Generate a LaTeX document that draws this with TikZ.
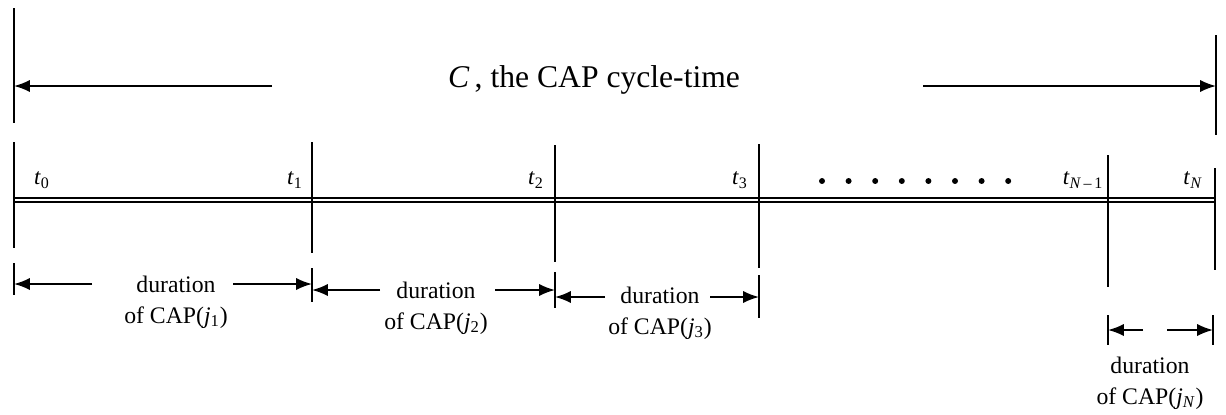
\documentclass[tikz,border=0pt]{standalone}
\usepackage{fontspec}
\setmainfont{Liberation Serif}
\usetikzlibrary{arrows.meta,positioning}

\newcommand{\tsub}[2]{\textit{#1}\textsubscript{#2}}

\begin{document}
\begin{tikzpicture}[
    x=0.02cm, y=-0.02cm,
    boundary/.style={line width=1.1pt},
    timeline/.style={double, line width=0.9pt, double distance=1.3pt},
    spanedge/.style={-{Latex[length=9pt,width=7pt]}, line width=1.1pt},
    title/.style={font=\fontsize{18}{21}\selectfont, inner sep=1pt},
    timelabel/.style={font=\fontsize{13}{15}\selectfont, inner sep=1pt},
    spanlabel/.style={align=center, font=\fontsize{13.5}{17.6}\selectfont, inner sep=1pt}
]
    \useasboundingbox (0,0) rectangle (1226,414);

    % cycle time
    \node[title] (cycle) at (594,80) {\textit{C}\,, the CAP cycle-time};
    \coordinate (cleft) at (14,86);
    \coordinate (cright) at (1216,86);
    \coordinate (cleftstart) at (272,86);
    \coordinate (crightstart) at (923,86);
    \draw[boundary] (14,8) -- (14,123);
    \draw[boundary] (1216,35) -- (1216,135);
    \draw[spanedge] (cleftstart) -- (cleft);
    \draw[spanedge] (crightstart) -- (cright);

    % time axis
    \coordinate (p0) at (14,200);
    \coordinate (p1) at (312,200);
    \coordinate (p2) at (555,200);
    \coordinate (p3) at (759,200);
    \coordinate (pm) at (1108,200);
    \coordinate (pn) at (1215,200);
    \draw[timeline] (p0) -- (pn);
    \draw[boundary] (14,142) -- (14,248);
    \draw[boundary] (312,142) -- (312,253);
    \draw[boundary] (555,145) -- (555,262);
    \draw[boundary] (759,144) -- (759,268);
    \draw[boundary] (1108,155) -- (1108,287);
    \draw[boundary] (1215,168) -- (1215,270);

    \node[timelabel] (t0) at (42,180) {\tsub{t}{0}};
    \node[timelabel] (t1) at (295,180) {\tsub{t}{1}};
    \node[timelabel] (t2) at (536,180) {\tsub{t}{2}};
    \node[timelabel] (t3) at (740,180) {\tsub{t}{3}};
    \node[timelabel] (tm) at (1083,180) {\tsub{t}{\textit{N}\,--\,1}};
    \node[timelabel] (tn) at (1193,180) {\tsub{t}{\textit{N}}};
    \foreach \k in {0,...,7}
        \fill (822+26.6*\k,181) circle (1.7pt);

    % durations
    \node[spanlabel] (d1) at (176,302) {duration\\of CAP(\tsub{j}{1})};
    \node[spanlabel] (d2) at (436,308) {duration\\of CAP(\tsub{j}{2})};
    \node[spanlabel] (d3) at (660,313) {duration\\of CAP(\tsub{j}{3})};
    \node[spanlabel] (dn) at (1150,383) {duration\\of CAP(\tsub{j}{\textit{N}})};

    \draw[boundary] (14,263) -- (14,295);
    \draw[boundary] (312,268) -- (312,302);
    \draw[boundary] (555,272) -- (555,308);
    \draw[boundary] (759,275) -- (759,318);
    \draw[boundary] (1108,315) -- (1108,345);
    \draw[boundary] (1213,315) -- (1213,345);

    \coordinate (a1l) at (14,284);   \coordinate (a1r) at (312,284);
    \coordinate (a2l) at (312,290);  \coordinate (a2r) at (555,290);
    \coordinate (a3l) at (555,297);  \coordinate (a3r) at (759,297);
    \coordinate (anl) at (1108,330); \coordinate (anr) at (1213,330);

    \draw[spanedge] (92,284) -- (a1l);
    \draw[spanedge] (233,284) -- (a1r);
    \draw[spanedge] (380,290) -- (a2l);
    \draw[spanedge] (495,290) -- (a2r);
    \draw[spanedge] (605,297) -- (a3l);
    \draw[spanedge] (710,297) -- (a3r);
    \draw[spanedge] (1143,330) -- (anl);
    \draw[spanedge] (1167,330) -- (anr);
\end{tikzpicture}
\end{document}
